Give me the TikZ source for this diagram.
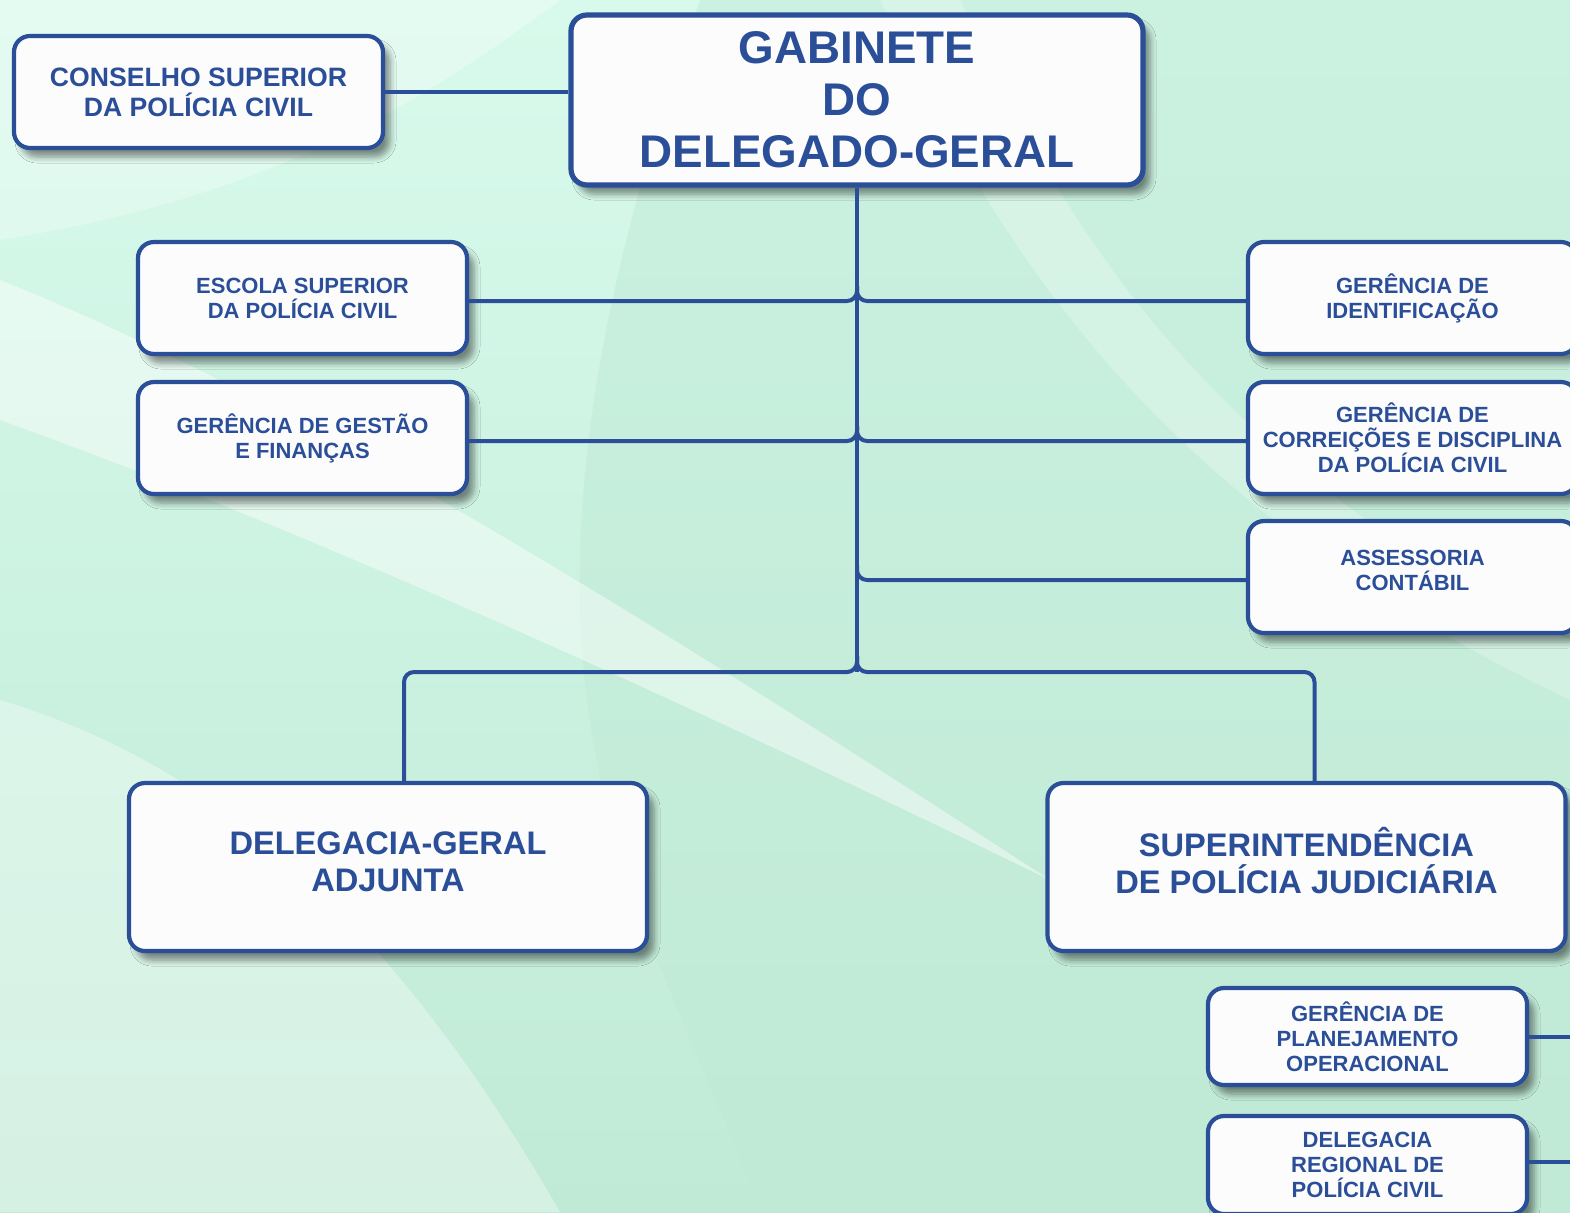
\documentclass[tikz,border=0pt]{standalone}
\usepackage{fontspec}
\setmainfont{Liberation Sans}
\usetikzlibrary{shadows.blur,shadings}

\definecolor{orgblue}{RGB}{42,78,152}
\definecolor{boxfill}{RGB}{252,252,252}
\definecolor{mintlight}{RGB}{216,250,236}
\definecolor{mintmid}{RGB}{204,242,225}
\definecolor{mintdark}{RGB}{192,234,214}

\tikzset{
  unit/.style={draw=orgblue, line width=2.1pt, fill=boxfill, rounded corners=8pt,
    text=orgblue, align=center, inner sep=0pt,
    blur shadow={shadow xshift=3.5pt, shadow yshift=-4.5pt, shadow blur steps=6,
      shadow blur radius=3pt, shadow opacity=45}},
  smallbox/.style={unit, minimum width=164.5pt, minimum height=56pt,
    font=\bfseries\fontsize{11}{12.5}\selectfont},
  bigbox/.style={unit, minimum width=259pt, minimum height=84pt,
    font=\bfseries\fontsize{16.3}{18.5}\selectfont},
  link/.style={draw=orgblue, line width=2pt, rounded corners=5pt},
}

\begin{document}
\begin{tikzpicture}[x=0.5pt, y=-0.5pt]
    % background
    \useasboundingbox (0,0) rectangle (1570,1212);
    \shade[top color=mintlight, bottom color=mintdark] (0,0) rectangle (1570,1212);
    \fill[mintdark, opacity=0.5] (700,0) -- (1570,0) -- (1570,1212) -- (760,1212)
        .. controls (650,900) and (450,700) .. (700,0) -- cycle;
    \fill[white, opacity=0.45] (0,280) .. controls (300,400) and (650,620) .. (1050,880)
        .. controls (640,680) and (280,520) .. (0,420) -- cycle;
    \fill[white, opacity=0.35] (0,700) .. controls (200,760) and (380,900) .. (560,1212)
        -- (0,1212) -- cycle;
    \fill[white, opacity=0.3] (0,0) -- (560,0) .. controls (400,120) and (250,200) .. (0,240) -- cycle;
    \fill[white, opacity=0.25] (880,0) .. controls (1000,250) and (1150,500) .. (1570,700)
        -- (1570,640) .. controls (1200,460) and (1060,220) .. (960,0) -- cycle;

    % top level
    \node[unit, minimum width=286pt, minimum height=85pt, line width=2.6pt,
          font=\bfseries\fontsize{22.9}{26}\selectfont] (gab) at (857,100)
          {GABINETE\\DO\\DELEGADO-GERAL};
    \node[unit, minimum width=184.5pt, minimum height=56pt,
          font=\bfseries\fontsize{13.3}{15}\selectfont] (cons) at (198.5,92)
          {CONSELHO SUPERIOR\\DA POLÍCIA CIVIL};

    % staff units
    \node[smallbox] (escola) at (302.5,298) {ESCOLA SUPERIOR\\DA POLÍCIA CIVIL};
    \node[smallbox] (gestao) at (302.5,438) {GERÊNCIA DE GESTÃO\\E FINANÇAS};
    \node[smallbox] (ident) at (1412.5,298) {GERÊNCIA DE\\IDENTIFICAÇÃO};
    \node[smallbox] (correi) at (1412.5,438) {GERÊNCIA DE\\CORREIÇÕES E DISCIPLINA\\DA POLÍCIA CIVIL};
    \node[smallbox] (assess) at (1412.5,577) {ASSESSORIA\\CONTÁBIL\\[-6pt]\mbox{}};

    % main branches
    \node[bigbox] (dga) at (388,867) {DELEGACIA-GERAL\\ADJUNTA\\[-13.5pt]\mbox{}};
    \node[bigbox] (spj) at (1306.5,867) {SUPERINTENDÊNCIA\\DE POLÍCIA JUDICIÁRIA\\[-11.5pt]\mbox{}};

    % under the superintendence
    \node[smallbox, minimum width=159.5pt, minimum height=48.5pt] (plan) at (1367.5,1036.5)
          {GERÊNCIA DE\\PLANEJAMENTO\\OPERACIONAL};
    \node[smallbox, minimum width=159.5pt, minimum height=49pt] (dreg) at (1367.5,1165)
          {DELEGACIA\\REGIONAL DE\\POLÍCIA CIVIL};

    % junctions on the trunk
    \coordinate (j1) at (857,286);
    \coordinate (j2) at (857,426);
    \coordinate (j3) at (857,565);
    \coordinate (split) at (857,672);
    \coordinate (edge1) at (1570,1036.5);
    \coordinate (edge2) at (1570,1162);

    % connectors
    \draw[link] (cons.east) -- (cons.east -| gab.west);
    \draw[link] (gab.south) -- (split);
    \draw[link] ([yshift=-1.5pt]escola.east) -| (j1);
    \draw[link] ([yshift=-1.5pt]ident.west) -| (j1);
    \draw[link] ([yshift=-1.5pt]gestao.east) -| (j2);
    \draw[link] ([yshift=-1.5pt]correi.west) -| (j2);
    \draw[link] ([yshift=-1.5pt]assess.west) -| (j3);
    \draw[link] ([xshift=8pt]dga.north) |- (split) -- ++(0,-16);
    \draw[link] ([xshift=4pt]spj.north) |- (split) -- ++(0,-16);
    \draw[link] (plan.east) -- (edge1);
    \draw[link] (dreg.east |- edge2) -- (edge2);
\end{tikzpicture}
\end{document}
